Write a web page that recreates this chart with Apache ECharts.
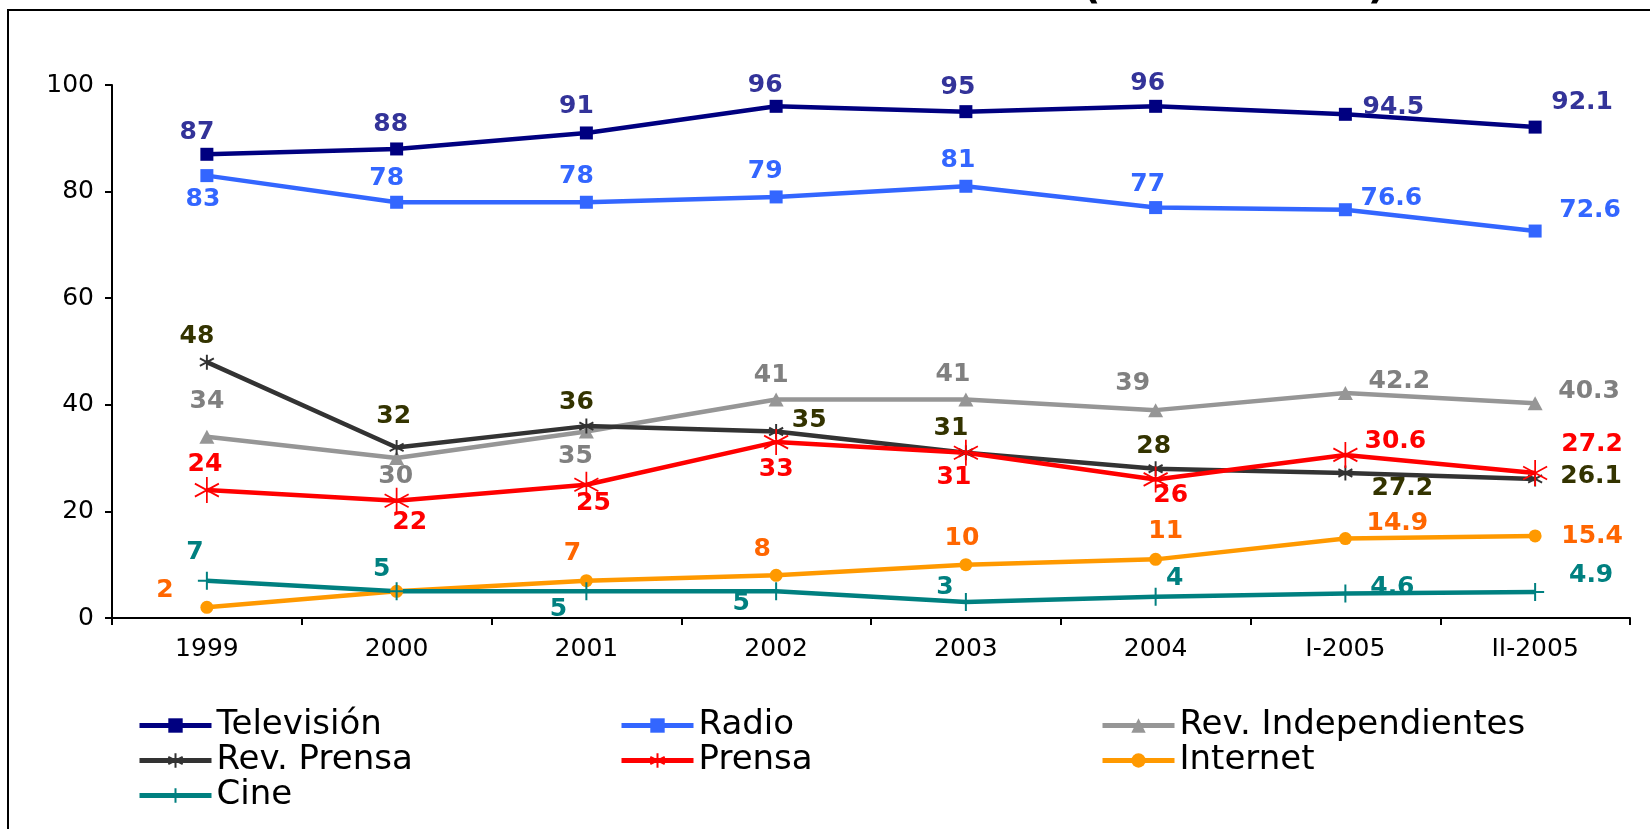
<!DOCTYPE html>
<html>
<head>
<meta charset="utf-8">
<title>Penetración de los medios (1999 - 2005)</title>
<script src="https://cdn.jsdelivr.net/npm/echarts@6/dist/echarts.min.js"></script>
<style>
  html, body { margin: 0; padding: 0; background: #fff; }
  #main { width: 1650px; height: 829px; }
</style>
</head>
<body>
<div id="main"></div>
<script>
// categories (x axis)
var periodos = ['1999', '2000', '2001', '2002', '2003', '2004', 'I-2005', 'II-2005'];

// series values
var television   = [87, 88, 91, 96, 95, 96, 94.5, 92.1];
var radio        = [83, 78, 78, 79, 81, 77, 76.6, 72.6];
var revIndep     = [34, 30, 35, 41, 41, 39, 42.2, 40.3];
var revPrensa    = [48, 32, 36, 35, 31, 28, 27.2, 26.1];
var prensa       = [24, 22, 25, 33, 31, 26, 30.6, 27.2];
var internet     = [2, 5, 7, 8, 10, 11, 14.9, 15.4];
var cine         = [7, 5, 5, 5, 3, 4, 4.6, 4.9];

// y axis ticks
var yMin = 0, yMax = 100, yStep = 20;

// label placement (pixel offset from the point, null = no label)
var offTv        = [[-10,-22],[-6,-24],[-10,-26],[-11,-21],[-8,-24],[-8,-23],[48,-7],[47,-25]];
var offRadio     = [[-4,24],[-10,-24],[-10,-26],[-11,-25],[-8,-26],[-8,-23],[46,-11],[55,-21]];
var offRevIndep  = [[0,-35],[-1,18],[-11,25],[-5,-24],[-13,-25],[-23,-27],[54,-12],[54,-12]];
var offRevPrensa = [[-10,-26],[-3,-31],[-10,-24],[33,-11],[-15,-24],[-2,-22],[57,15],[56,-2]];
var offPrensa    = [[-2,-26],[13,22],[7,19],[0,27],[-12,25],[15,16],[50,-13],[57,-29]];
var offInternet  = [[-42,-17],null,[-14,-27],[-14,-26],[-4,-26],[10,-28],[52,-15],[57,1]];
var offCine      = [[-12,-28],[-15,-22],[-28,18],[-35,12],[-21,-15],[19,-18],[47,-6],[56,-16]];

var FONT = '"DejaVu Sans", Verdana, sans-serif';
var asterisco = 'path://M10,0L10,20M1.34,5L18.66,15M1.34,15L18.66,5';
var cruz = 'path://M10,0L10,20M0,10L20,10';

function serie(name, values, offsets, color, labelColor, symbol, size, stroke) {
  return {
    name: name,
    type: 'line',
    symbol: symbol,
    symbolSize: size,
    showAllSymbol: true,
    lineStyle: { color: color, width: 4.5 },
    itemStyle: stroke
      ? { color: 'rgba(0,0,0,0)', borderColor: color, borderWidth: stroke }
      : { color: color, borderWidth: 0 },
    label: {
      show: true,
      position: 'inside',
      color: labelColor,
      fontFamily: FONT,
      fontSize: 25,
      fontWeight: 'bold'
    },
    data: values.map(function (v, i) {
      var o = offsets[i];
      return { value: v, label: o ? { show: true, offset: o } : { show: false } };
    })
  };
}

var chart = echarts.init(document.getElementById('main'));
chart.setOption({
  animation: false,
  backgroundColor: '#fff',
  graphic: [
    { // frame of the chart area
      type: 'rect',
      shape: { x: 8, y: 10, width: 1700, height: 900 },
      style: { fill: 'none', stroke: '#000', lineWidth: 2 },
      silent: true
    },
    { // title, almost cut off at the top
      type: 'text',
      x: 1386, y: -12,
      style: {
        text: 'Penetración de los medios (1999 - 2005)',
        font: 'bold 40px "DejaVu Sans", Verdana, sans-serif',
        fill: '#000',
        align: 'right',
        verticalAlign: 'middle'
      },
      silent: true
    }
  ],
  grid: { left: 112, right: 20, top: 85, bottom: 211 },
  legend: [
    { left: 137, top: 708, orient: 'vertical', data: ['Televisión', 'Rev. Prensa', 'Cine'] },
    { left: 619, top: 708, orient: 'vertical', data: ['Radio', 'Prensa'] },
    { left: 1100, top: 708, orient: 'vertical', data: ['Rev. Independientes', 'Internet'] }
  ].map(function (l) {
    l.itemWidth = 72;
    l.itemHeight = 18;
    l.itemGap = 0;
    l.padding = 0;
    l.lineStyle = { width: 5 };
    l.textStyle = { fontFamily: FONT, fontSize: 34, color: '#000', lineHeight: 35 };
    return l;
  }),
  xAxis: {
    type: 'category',
    data: periodos,
    boundaryGap: true,
    axisLine: { show: true, lineStyle: { color: '#000', width: 2 } },
    axisTick: { show: true, interval: 0, length: 7, lineStyle: { color: '#000', width: 2 } },
    axisLabel: { color: '#000', fontFamily: FONT, fontSize: 25, margin: 19, interval: 0 },
    splitLine: { show: false }
  },
  yAxis: {
    type: 'value',
    min: yMin, max: yMax, interval: yStep,
    axisLine: { show: true, lineStyle: { color: '#000', width: 2 } },
    axisTick: { show: true, length: 7, lineStyle: { color: '#000', width: 2 } },
    axisLabel: { color: '#000', fontFamily: FONT, fontSize: 25, margin: 18 },
    splitLine: { show: false }
  },
  series: [
    serie('Televisión', television, offTv, '#000080', '#333399', 'rect', 13),
    serie('Radio', radio, offRadio, '#3366FF', '#3366FF', 'rect', 13),
    serie('Rev. Independientes', revIndep, offRevIndep, '#969696', '#808080', 'triangle', [15, 14]),
    serie('Rev. Prensa', revPrensa, offRevPrensa, '#333333', '#333300', asterisco, [14, 15], 2),
    serie('Prensa', prensa, offPrensa, '#FF0000', '#FF0000', asterisco, [24, 26], 1.8),
    serie('Internet', internet, offInternet, '#FF9900', '#FF6600', 'circle', 13),
    serie('Cine', cine, offCine, '#008080', '#008080', cruz, [18, 18], 2)
  ]
});
</script>
</body>
</html>
